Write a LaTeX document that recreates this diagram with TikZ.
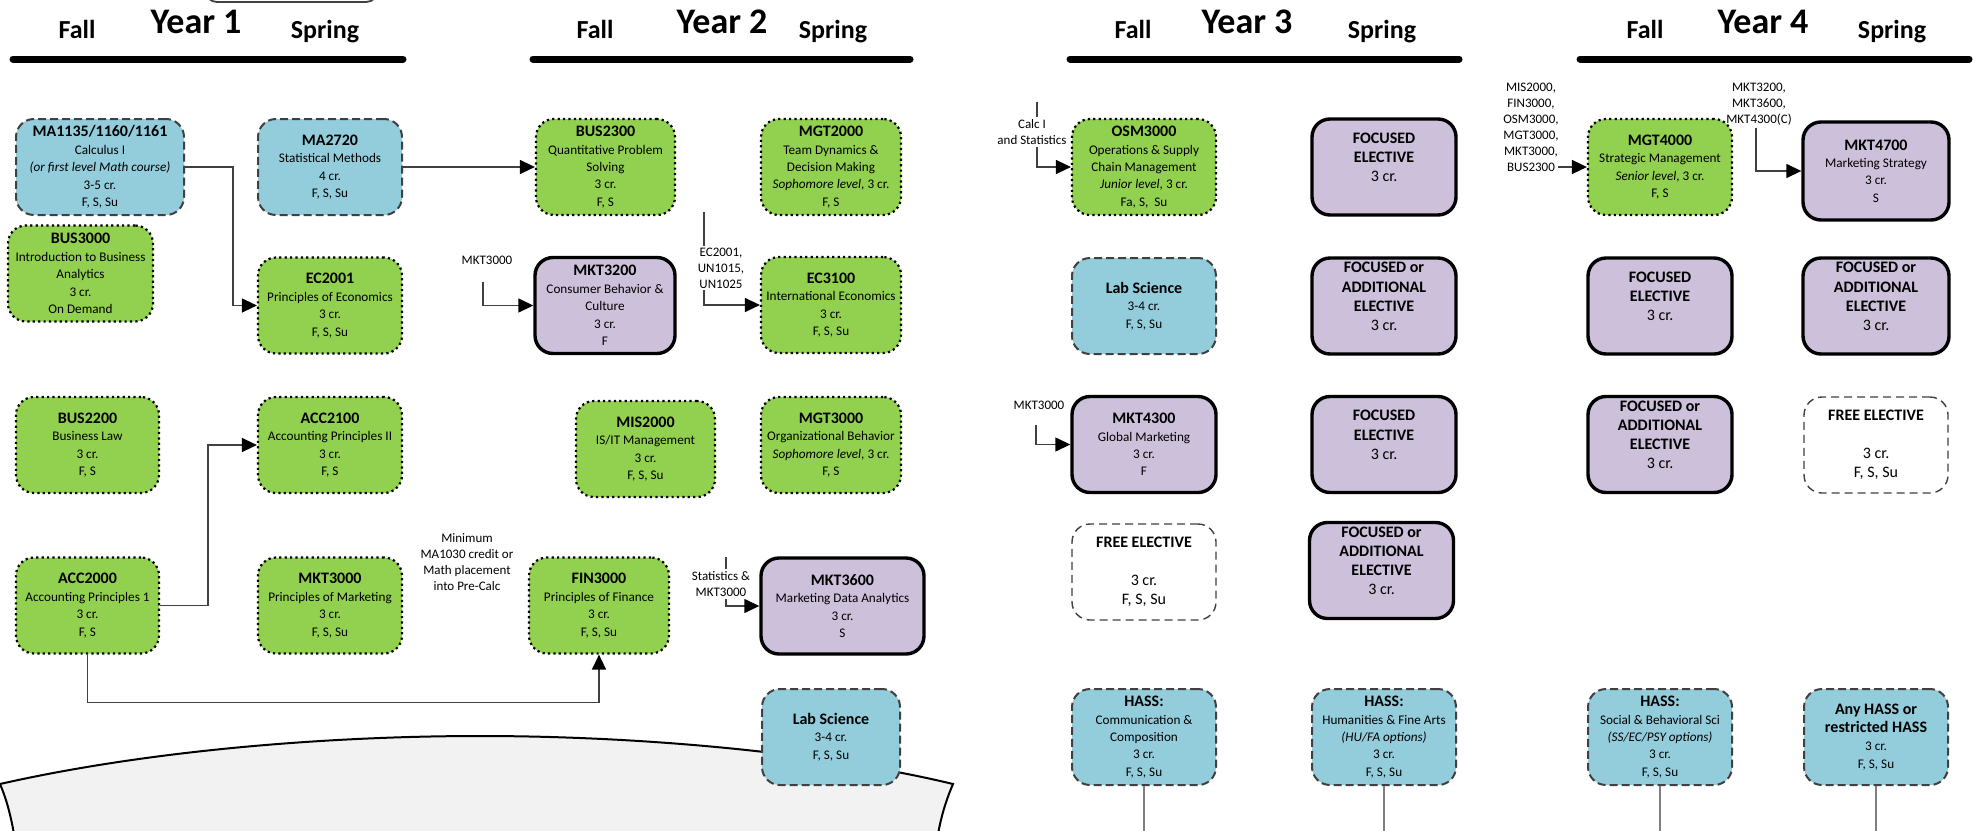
\documentclass[tikz,border=0pt]{standalone}
\usepackage{fontspec}
\setmainfont{Carlito}
\usetikzlibrary{arrows.meta}
\definecolor{cgreen}{HTML}{92D050}
\definecolor{cblue}{HTML}{93CDDC}
\definecolor{cpurple}{HTML}{CCC0DA}
\definecolor{cgray}{HTML}{F2F2F2}
\definecolor{cline}{HTML}{404040}
\definecolor{cvline}{HTML}{7F7F7F}
\newcommand\ccode[1]{{\fontsize{8}{8.7}\selectfont\bfseries #1}}
\begin{document}
\begin{tikzpicture}[x=0.5pt,y=-0.5pt,
  box/.style={rounded corners=9pt, inner sep=0pt, align=center, minimum width=72pt, minimum height=48pt, font=\fontsize{6.6}{8.7}\selectfont, text=black},
  gbox/.style={box, fill=cgreen, draw=black, line width=1.1pt, dash pattern=on 1.1pt off 1.6pt},
  bbox/.style={box, fill=cblue, draw=cline, line width=1pt, dash pattern=on 4pt off 2pt},
  pbox/.style={box, fill=cpurple, draw=black, line width=1.7pt},
  fbox/.style={box, fill=white, draw=cline, line width=0.7pt, dash pattern=on 4pt off 2.5pt, font=\fontsize{8}{9.5}\selectfont},
  focus/.style={pbox, font=\fontsize{8}{9.6}\selectfont},
  conn/.style={draw=cline, line width=0.7pt},
  arr/.style={conn, -{Triangle[length=7.5pt,width=7pt,color=black]}},
  vline/.style={draw=cvline, line width=0.8pt},
  lbl/.style={font=\fontsize{6.5}{8}\selectfont, align=center, inner sep=1pt, text=black},
  wlbl/.style={lbl, fill=white},
  yr/.style={font=\fontsize{18}{20}\selectfont\bfseries, anchor=base, inner sep=0pt},
  sem/.style={font=\fontsize{13}{15}\selectfont\bfseries, anchor=base, inner sep=0pt},
  bar/.style={line width=3.5pt, line cap=round}]
\useasboundingbox (0,0) rectangle (1973,830);

% top partial shape
\draw[cline, line width=0.9pt, rounded corners=6pt] (205,-30) rectangle (378,2);

% big gray shape
\draw[fill=cgray, line width=1pt] (0,784) .. controls (150,750) and (330,736) .. (480,736)
  .. controls (640,736) and (820,752) .. (953,784)
  .. controls (947,798) and (941,815) .. (937,840) -- (15,840)
  .. controls (11,815) and (6,798) .. (0,784) -- cycle;

% headers
\node[yr] (y1) at (196,33) {Year 1};
\node[sem] (y1f) at (77,38) {Fall};
\node[sem] (y1s) at (325,38) {Spring};
\draw[bar] (13,59) -- (403,59);
\node[yr] (y2) at (722,33) {Year 2};
\node[sem] (y2f) at (595,38) {Fall};
\node[sem] (y2s) at (833,38) {Spring};
\draw[bar] (533,59) -- (910,59);
\node[yr] (y3) at (1247,33) {Year 3};
\node[sem] (y3f) at (1133,38) {Fall};
\node[sem] (y3s) at (1382,38) {Spring};
\draw[bar] (1070,59) -- (1459,59);
\node[yr] (y4) at (1763,33) {Year 4};
\node[sem] (y4f) at (1645,38) {Fall};
\node[sem] (y4s) at (1892,38) {Spring};
\draw[bar] (1580,59) -- (1969,59);

% Year 1
\node[bbox, minimum width=84pt] (ma1135) at (100,167) {\ccode{MA1135/1160/1161}\\Calculus I\\\textit{(or first level Math course)}\\3-5 cr.\\F, S, Su};
\node[bbox] (ma2720) at (330,167) {\ccode{MA2720}\\Statistical Methods\\4 cr.\\F, S, Su};
\node[gbox, minimum width=72.5pt] (bus3000) at (80.5,273.5) {\ccode{BUS3000}\\Introduction to Business\\Analytics\\3 cr.\\On Demand};
\node[gbox] (ec2001) at (330,305.5) {\ccode{EC2001}\\Principles of Economics\\3 cr.\\F, S, Su};
\node[gbox, minimum width=71.5pt] (bus2200) at (87.5,445) {\ccode{BUS2200}\\Business Law\\3 cr.\\F, S};
\node[gbox] (acc2100) at (330,445) {\ccode{ACC2100}\\Accounting Principles II\\3 cr.\\F, S};
\node[gbox, minimum width=71.5pt] (acc2000) at (87.5,605.5) {\ccode{ACC2000}\\Accounting Principles 1\\3 cr.\\F, S};
\node[gbox] (mkt3000) at (330,605.5) {\ccode{MKT3000}\\Principles of Marketing\\3 cr.\\F, S, Su};

% Year 2
\node[gbox, minimum width=69.5pt] (bus2300) at (605.5,167) {\ccode{BUS2300}\\Quantitative Problem\\Solving\\3 cr.\\F, S};
\node[gbox, minimum width=70pt] (mgt2000) at (831,167) {\ccode{MGT2000}\\Team Dynamics \&\\Decision Making\\\textit{Sophomore level}, 3 cr.\\F, S};
\node[pbox, minimum width=70pt] (mkt3200) at (605,305.5) {\ccode{MKT3200}\\Consumer Behavior \&\\Culture\\3 cr.\\F};
\node[gbox, minimum width=70pt] (ec3100) at (831,305) {\ccode{EC3100}\\International Economics\\3 cr.\\F, S, Su};
\node[gbox, minimum width=69.5pt] (mis2000) at (645.5,449) {\ccode{MIS2000}\\IS/IT Management\\3 cr.\\F, S, Su};
\node[gbox, minimum width=70pt] (mgt3000) at (831,445) {\ccode{MGT3000}\\Organizational Behavior\\\textit{Sophomore level}, 3 cr.\\F, S};
\node[gbox, minimum width=70pt] (fin3000) at (599,605.5) {\ccode{FIN3000}\\Principles of Finance\\3 cr.\\F, S, Su};
\node[pbox, minimum width=81.5pt] (mkt3600) at (842.5,606) {\ccode{MKT3600}\\Marketing Data Analytics\\3 cr.\\S};
\node[bbox, minimum width=69pt] (lab2) at (831,737) {\ccode{Lab Science}\\3-4 cr.\\F, S, Su};

% Year 3
\node[gbox] (osm3000) at (1144,167) {\ccode{OSM3000}\\Operations \& Supply\\Chain Management\\\textit{Junior level}, 3 cr.\\Fa, S,\ \ Su};
\node[focus] (fe3a) at (1384,167) {\textbf{FOCUSED}\\\textbf{ELECTIVE}\\3 cr.\\\mbox{}};
\node[bbox] (lab3) at (1144,306) {\ccode{Lab Science}\\3-4 cr.\\F, S, Su};
\node[focus] (fae3b) at (1384,306) {\textbf{FOCUSED or}\\\textbf{ADDITIONAL}\\\textbf{ELECTIVE}\\3 cr.\\\mbox{}};
\node[pbox] (mkt4300) at (1144,444.5) {\ccode{MKT4300}\\Global Marketing\\3 cr.\\F};
\node[focus] (fe3c) at (1384,444.5) {\textbf{FOCUSED}\\\textbf{ELECTIVE}\\3 cr.\\\mbox{}};
\node[fbox] (free3) at (1144,572) {\textbf{FREE ELECTIVE}\\\mbox{}\\3 cr.\\F, S, Su};
\node[focus] (fae3d) at (1381.5,570.5) {\textbf{FOCUSED or}\\\textbf{ADDITIONAL}\\\textbf{ELECTIVE}\\3 cr.\\\mbox{}};
\node[bbox] (hass1) at (1144,737) {\ccode{HASS:}\\Communication \&\\Composition\\3 cr.\\F, S, Su};
\node[bbox] (hass2) at (1384,737) {\ccode{HASS:}\\Humanities \& Fine Arts\\\textit{(HU/FA options)}\\3 cr.\\F, S, Su};

% Year 4
\node[gbox] (mgt4000) at (1660,167) {\ccode{MGT4000}\\Strategic Management\\\textit{Senior level}, 3 cr.\\F, S};
\node[pbox, minimum width=73pt, minimum height=49pt] (mkt4700) at (1876,171) {\ccode{MKT4700}\\Marketing Strategy\\3 cr.\\S};
\node[focus] (fe4a) at (1660,306) {\textbf{FOCUSED}\\\textbf{ELECTIVE}\\3 cr.\\\mbox{}};
\node[focus, minimum width=73pt] (fae4b) at (1876,306) {\textbf{FOCUSED or}\\\textbf{ADDITIONAL}\\\textbf{ELECTIVE}\\3 cr.\\\mbox{}};
\node[focus] (fae4c) at (1660,444.5) {\textbf{FOCUSED or}\\\textbf{ADDITIONAL}\\\textbf{ELECTIVE}\\3 cr.\\\mbox{}};
\node[fbox] (free4) at (1876,445) {\textbf{FREE ELECTIVE}\\\mbox{}\\3 cr.\\F, S, Su};
\node[bbox] (hass3) at (1660,737) {\ccode{HASS:}\\Social \& Behavioral Sci\\\textit{(SS/EC/PSY options)}\\3 cr.\\F, S, Su};
\node[bbox, font=\fontsize{6.6}{9}\selectfont] (hass4) at (1876,737) {\ccode{Any HASS or}\\\ccode{restricted HASS}\\3 cr.\\F, S, Su};

% connectors
\draw[arr] (ma1135.east) -- ++(48,0) |- (ec2001.west);
\draw[arr] (ma2720.east) -- (bus2300.west);
\draw[arr] (acc2000.east) -- ++(48,0) |- (acc2100.west);
\draw[arr] (acc2000.south) -- ++(0,48) -| (fin3000.south);

\node[lbl] (lm1) at (487,260) {MKT3000};
\coordinate (m1) at (483,282);
\draw[arr] (m1) |- (mkt3200.west);

\coordinate (e1) at (704,212);
\draw[arr] (e1) |- (ec3100.west);
\node[wlbl] (le1) at (721,268) {EC2001,\\UN1015,\\UN1025};

\node[lbl] (lmin) at (467,562) {Minimum\\MA1030 credit or\\Math placement\\into Pre-Calc};

\coordinate (s1) at (726,557);
\draw[arr] (s1) |- (mkt3600.west);
\node[wlbl] (ls1) at (721,584) {Statistics \&\\MKT3000};

\coordinate (c1) at (1037,102);
\draw[arr] (c1) |- (osm3000.west);
\node[wlbl] (lc1) at (1032,132) {Calc I\\and Statistics};

\node[lbl] (lm2) at (1039,405) {MKT3000};
\coordinate (m2) at (1036,425);
\draw[arr] (m2) |- (mkt4300.west);

\node[lbl] (lp1) at (1531,127) {MIS2000,\\FIN3000,\\OSM3000,\\MGT3000,\\MKT3000,\\BUS2300};
\coordinate (p1) at (1558,167);
\draw[arr] (p1) -- (mgt4000.west);

\node[lbl] (lp2) at (1759,104) {MKT3200,\\MKT3600,\\MKT4300(C)};
\coordinate (p2) at (1756,128);
\draw[arr] (p2) |- (mkt4700.west);

\draw[vline] (hass1.south) -- ++(0,50);
\draw[vline] (hass2.south) -- ++(0,50);
\draw[vline] (hass3.south) -- ++(0,50);
\draw[vline] (hass4.south) -- ++(0,50);
\end{tikzpicture}
\end{document}
